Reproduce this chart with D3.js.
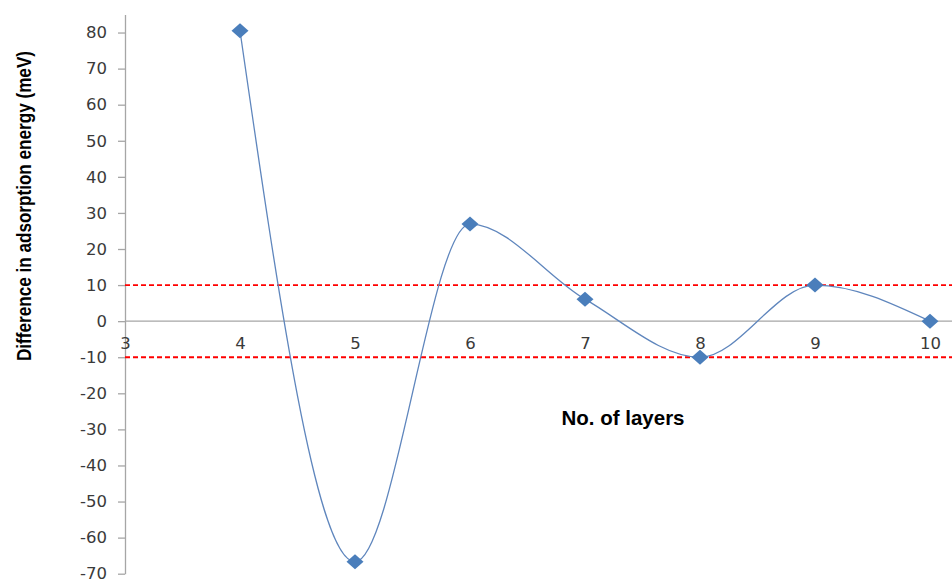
<!DOCTYPE html>
<html>
<head>
<meta charset="utf-8">
<script src="https://cdn.jsdelivr.net/npm/d3@7"></script>
<style>
  html, body { margin: 0; padding: 0; background: #fff; }
  svg { display: block; }
</style>
</head>
<body>
<svg id="chart" width="952" height="579"></svg>
<script>
// Layer count vs. difference in adsorption energy
const layers = [4, 5, 6, 7, 8, 9, 10];
const energyDiff = [80.5, -66.7, 26.9, 6.1, -10, 10, 0];
const yTicks = [-70, -60, -50, -40, -30, -20, -10, 0, 10, 20, 30, 40, 50, 60, 70, 80];
const xTicks = [3, 4, 5, 6, 7, 8, 9, 10];
const thresholds = [10, -10];

const W = 952, H = 579;
const svg = d3.select("#chart");

const x = d3.scaleLinear().domain([3, 10]).range([125, 930]);
const y = d3.scaleLinear().domain([-70, 85]).range([573.7, 14.5]);

const axisColor = "#a6a6a6";
const labelColor = "#3a3a3a";
const tickFont = "'DejaVu Sans', Verdana, sans-serif";

// Vertical axis (plain hyphen for negatives)
const gy = svg.append("g")
  .attr("transform", `translate(${x(3)},0)`)
  .call(d3.axisLeft(y).tickValues(yTicks).tickFormat(d => String(d))
    .tickSize(7).tickPadding(11).tickSizeOuter(0));
gy.select(".domain").attr("stroke", axisColor).attr("stroke-width", 1.3);
gy.selectAll(".tick line").attr("stroke", axisColor).attr("stroke-width", 1.3);
gy.selectAll(".tick text")
  .attr("fill", labelColor)
  .style("font-family", tickFont)
  .style("font-size", "16.5px");

// Horizontal axis through zero
svg.append("line")
  .attr("x1", x(3)).attr("x2", W)
  .attr("y1", y(0)).attr("y2", y(0))
  .attr("stroke", axisColor).attr("stroke-width", 1.3);

const gx = svg.append("g")
  .attr("transform", `translate(0,${y(0)})`)
  .call(d3.axisBottom(x).tickValues(xTicks).tickFormat(d => String(d)).tickSize(0).tickPadding(16));
gx.select(".domain").remove();
gx.selectAll(".tick text")
  .attr("fill", labelColor)
  .style("font-family", tickFont)
  .style("font-size", "16.5px");

// Dashed threshold lines at ±10 meV
svg.selectAll("line.threshold")
  .data(thresholds)
  .join("line")
  .attr("class", "threshold")
  .attr("x1", x(3)).attr("x2", W)
  .attr("y1", d => y(d)).attr("y2", d => y(d))
  .attr("stroke", "#ff0000")
  .attr("stroke-width", 1.8)
  .attr("stroke-dasharray", "5,3");

// Smoothed series line
const pts = layers.map((l, i) => [l, energyDiff[i]]);
const line = d3.line()
  .x(d => x(d[0]))
  .y(d => y(d[1]))
  .curve(d3.curveMonotoneX);

svg.append("path")
  .datum(pts)
  .attr("d", line)
  .attr("fill", "none")
  .attr("stroke", "#5f86bd")
  .attr("stroke-width", 1.3);

// Diamond markers
const hw = 8.5, hh = 7.5;
svg.selectAll("path.marker")
  .data(pts)
  .join("path")
  .attr("class", "marker")
  .attr("d", d => {
    const cx = x(d[0]), cy = y(d[1]);
    return `M${cx},${cy - hh}L${cx + hw},${cy}L${cx},${cy + hh}L${cx - hw},${cy}Z`;
  })
  .attr("fill", "#4a7ebb");

// Axis titles
svg.append("text")
  .attr("x", 623)
  .attr("y", 425)
  .attr("text-anchor", "middle")
  .style("font-family", "'Liberation Sans', Arial, sans-serif")
  .style("font-weight", "bold")
  .style("font-size", "20.5px")
  .attr("fill", "#000")
  .text("No. of layers");

svg.append("text")
  .attr("transform", "translate(31,206) rotate(-90)")
  .attr("text-anchor", "middle")
  .attr("textLength", 310)
  .attr("lengthAdjust", "spacingAndGlyphs")
  .style("font-family", "'Liberation Sans Narrow', 'Arial Narrow', 'Liberation Sans', Arial, sans-serif")
  .style("font-weight", "bold")
  .style("font-size", "20.5px")
  .attr("fill", "#000")
  .text("Difference in adsorption energy (meV)");
</script>
</body>
</html>
